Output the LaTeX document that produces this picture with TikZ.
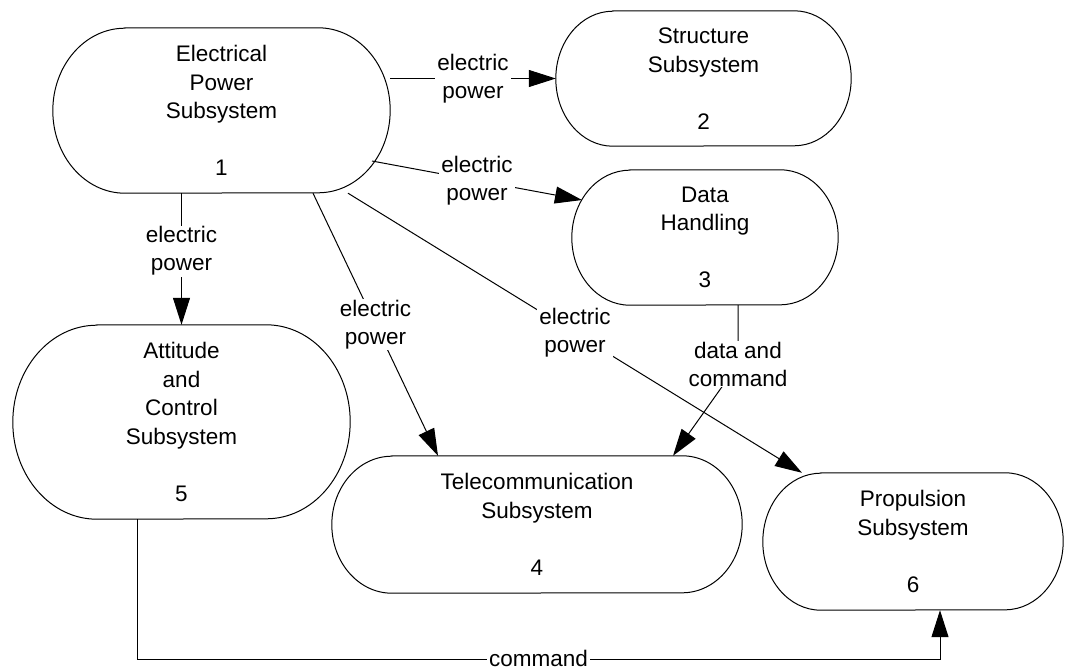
\documentclass[tikz,border=0pt]{standalone}
\usepackage{fontspec}
\setmainfont{Liberation Sans}
\usetikzlibrary{arrows.meta,calc}
\newcommand\pilloutline[3]{%
  \draw[pillline] ([xshift=#2]#1.north west) -- ([xshift=-#2]#1.north east)
    arc[start angle=90,end angle=-90,x radius=#2,y radius=#3]
    -- ([xshift=#2]#1.south west)
    arc[start angle=270,end angle=90,x radius=#2,y radius=#3] -- cycle;}
\tikzset{
  pill/.style={draw=none, inner sep=0pt, align=center,
    font=\fontsize{22.5}{28.5}\selectfont},
  pillline/.style={line width=1pt, black},
  lbl/.style={fill=white, inner xsep=2pt, inner ysep=1pt, align=center,
    font=\fontsize{22.5}{28}\selectfont},
  arr/.style={line width=1pt, -{Triangle[length=27pt,width=17pt]}}
}
\begin{document}
\begin{tikzpicture}[x=1pt,y=-1pt]
\useasboundingbox (0,0) rectangle (1066,669);
\node[pill, minimum width=337pt, minimum height=165pt] (n1) at (221.5,110.5)
  {Electrical\\Power\\Subsystem\\\mbox{}\\1};
\node[pill, minimum width=295pt, minimum height=135pt] (n2) at (703.5,78.5)
  {Structure\\Subsystem\\\mbox{}\\2};
\node[pill, minimum width=266pt, minimum height=135pt] (n3) at (705,237.5)
  {Data\\Handling\\\mbox{}\\3};
\node[pill, minimum width=410pt, minimum height=137pt] (n4) at (537,524.5)
  {Telecommunication\\Subsystem\\\mbox{}\\4};
\node[pill, minimum width=337pt, minimum height=194pt] (n5) at (181.5,422)
  {Attitude\\and\\Control\\Subsystem\\\mbox{}\\5};
\node[pill, minimum width=300pt, minimum height=137pt] (n6) at (913,541.5)
  {Propulsion\\Subsystem\\\mbox{}\\6};
\pilloutline{n1}{72pt}{82.5pt}
\pilloutline{n2}{57pt}{67.5pt}
\pilloutline{n3}{58pt}{67.5pt}
\pilloutline{n4}{60pt}{68.5pt}
\pilloutline{n5}{84pt}{97pt}
\pilloutline{n6}{58pt}{68.5pt}
% connectors
\draw[arr] (n1.east |- n2.west) -- node[lbl]{electric\\power} (n2.west);
\draw[arr] ($(n1.center)+(150.5,50.5)$) -- node[lbl]{electric\\power} ($(n3.center)+(-123,-37.5)$);
\draw[arr] (n1.south -| n5.north) -- node[lbl,pos=0.44]{electric\\power} (n5.north);
\draw[arr] ([xshift=91.5pt]n1.south) -- node[lbl]{electric\\power} ([xshift=-99pt]n4.north);
\draw[arr] ([xshift=126.5pt]n1.south) -- node[lbl]{electric\\power} ([xshift=-111pt]n6.north);
\coordinate (dcc) at ([xshift=33pt,yshift=-59pt]n3.south);
\draw[arr] ([xshift=33pt]n3.south) -- (dcc) node[lbl]{data and\\command} -- ([xshift=136pt]n4.north);
\coordinate (p5out) at ([xshift=-44.5pt]n5.south);
\coordinate (p6in) at ([xshift=27pt]n6.south);
\draw[arr] (p5out) -- ++(0,140) coordinate (gc) -- node[lbl,inner ysep=0pt,yshift=1pt]{command} (gc -| p6in) -- (p6in);
\end{tikzpicture}
\end{document}
